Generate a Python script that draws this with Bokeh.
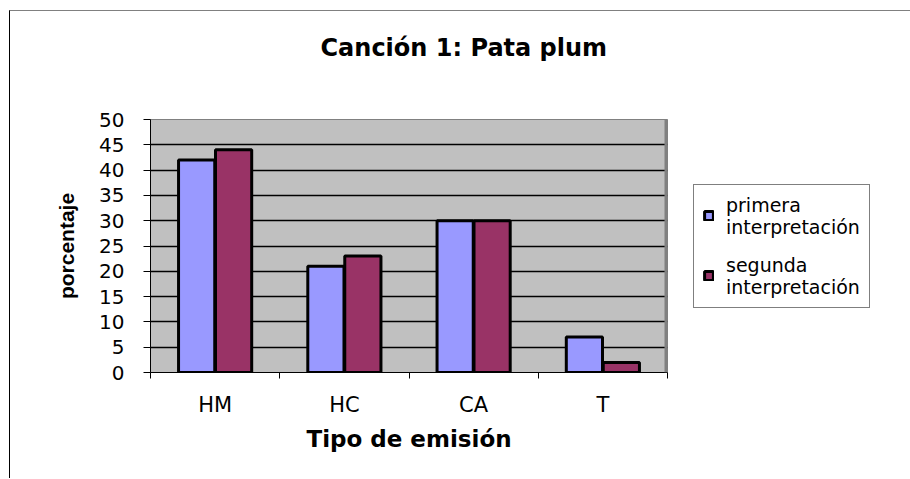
from bokeh.plotting import figure
from bokeh.models import Range1d, FixedTicker, Legend, LegendItem, Span, ColumnDataSource, Title
from bokeh.transform import dodge
from bokeh.embed import file_html
from bokeh.resources import INLINE

# ---- data ----
categories = ["HM", "HC", "CA", "T"]
primera = [42, 21, 30, 7]
segunda = [44, 23, 30, 2]
series_names = ["primera\ninterpretación", "segunda\ninterpretación"]
y_ticks = [0, 5, 10, 15, 20, 25, 30, 35, 40, 45, 50]
title_text = "Canción 1: Pata plum"
x_title = "Tipo de emisión"
y_title = "porcentaje"

x_pos = [i + 0.5 for i in range(len(categories))]
source = ColumnDataSource(dict(x=x_pos, cat=categories, primera=primera, segunda=segunda))

p = figure(frame_width=517, frame_height=253,
           x_range=Range1d(0, len(categories)), y_range=Range1d(0, 50),
           output_backend="svg", toolbar_location=None,
           min_border_left=140, min_border_right=241,
           min_border_top=108, min_border_bottom=106,
           title=title_text)

p.styles = {"border-top": "1px solid #808080", "border-left": "1px solid #000000",
            "margin-top": "10px", "margin-left": "9px"}

p.background_fill_color = "#c0c0c0"
p.border_fill_color = "white"
p.outline_line_color = "#808080"
p.outline_line_width = 1

# title
p.title.text_font = "DejaVu Sans"
p.title.text_font_size = "24px"
p.title.text_font_style = "bold"
p.title.text_color = "black"
p.title.align = "left"
p.title.vertical_align = "top"
p.title.offset = 170
p.title.standoff = 44

# spacer between title and plot area
p.add_layout(Title(text=" ", text_font_size="1px", standoff=31), "above")

# bars
r1 = p.vbar(x=dodge("x", -0.143, range=p.x_range), top="primera", width=0.28,
            source=source, fill_color="#9999ff", line_color="black", line_width=3)
r2 = p.vbar(x=dodge("x", 0.143, range=p.x_range), top="segunda", width=0.28,
            source=source, fill_color="#993366", line_color="black", line_width=3)

# right edge strip of plot area
p.add_layout(Span(location=len(categories), dimension="height", line_color="#808080", line_width=6))

# grid
p.xgrid.visible = False
p.ygrid.grid_line_color = "black"
p.ygrid.grid_line_width = 1.5

# x axis
xa = p.xaxis[0]
xa.ticker = FixedTicker(ticks=x_pos, minor_ticks=list(range(len(categories) + 1)))
xa.major_label_overrides = {x: c for x, c in zip(x_pos, categories)}
xa.major_tick_line_color = None
xa.major_tick_out = 6
xa.major_tick_in = 0
xa.minor_tick_line_color = "black"
xa.minor_tick_out = 6
xa.minor_tick_in = 0
xa.axis_line_color = "black"
xa.major_label_text_font = "DejaVu Sans"
xa.major_label_text_font_size = "21px"
xa.major_label_text_color = "black"
xa.major_label_standoff = 14
xa.axis_label = x_title
xa.axis_label_text_font = "DejaVu Sans"
xa.axis_label_text_font_size = "23px"
xa.axis_label_text_font_style = "bold"
xa.axis_label_text_color = "black"
xa.axis_label_standoff = 6

# y axis
ya = p.yaxis[0]
ya.ticker = FixedTicker(ticks=y_ticks)
ya.major_tick_out = 7
ya.major_tick_in = 0
ya.major_tick_line_color = "black"
ya.minor_tick_line_color = None
ya.axis_line_color = "black"
ya.major_label_text_font = "DejaVu Sans"
ya.major_label_text_font_size = "20px"
ya.major_label_text_color = "black"
ya.major_label_standoff = 19
ya.axis_label = y_title
ya.axis_label_text_font = "Liberation Sans"
ya.axis_label_text_font_size = "21px"
ya.axis_label_text_font_style = "bold"
ya.axis_label_text_color = "black"
ya.axis_label_standoff = 18

# legend
legend = Legend(items=[LegendItem(label=series_names[0], renderers=[r1]),
                       LegendItem(label=series_names[1], renderers=[r2])],
                location="left")
legend.border_line_color = "black"
legend.border_line_width = 1
legend.background_fill_color = "white"
legend.background_fill_alpha = 1
legend.label_text_font = "DejaVu Sans"
legend.label_text_font_size = "19px"
legend.label_text_color = "black"
legend.glyph_width = 11
legend.glyph_height = 11
legend.label_standoff = 12
legend.padding = 9
legend.spacing = 16
legend.margin = 26
p.add_layout(legend, "right")

open("out.html", "w").write(file_html(p, INLINE))
